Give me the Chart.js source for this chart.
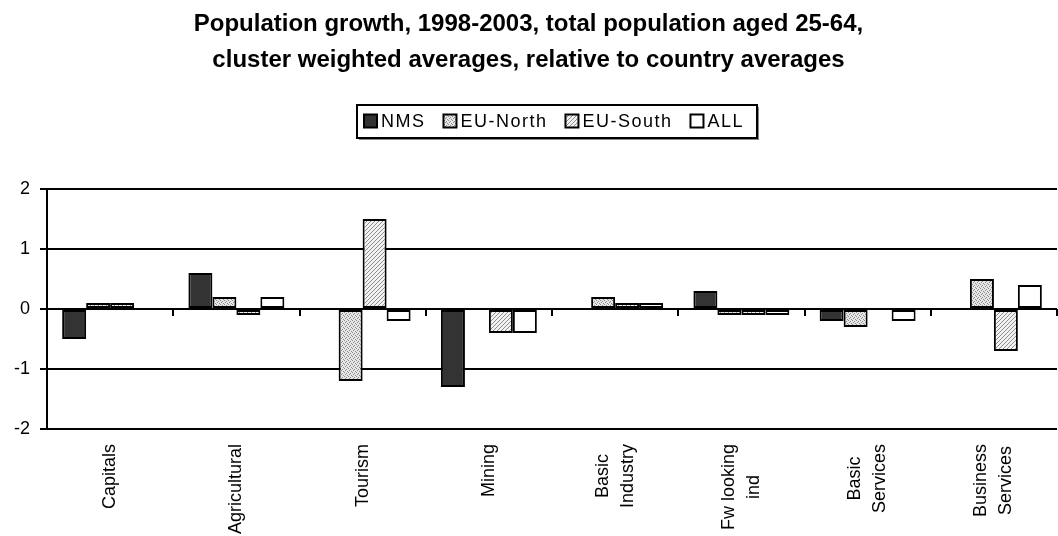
<!DOCTYPE html>
<html>
<head>
<meta charset="utf-8">
<script src="https://cdn.jsdelivr.net/npm/chart.js@4"></script>
<style>
  body { margin: 0; background: #fff; }
</style>
</head>
<body>
<canvas id="myChart" width="1058" height="536"></canvas>
<script>
// data
const categories = [['Capitals'], ['Agricultural'], ['Tourism'], ['Mining'],
  ['Basic', 'Industry'], ['Fw looking', 'ind'], ['Basic', 'Services'], ['Business', 'Services']];
const seriesNames = ['NMS', 'EU-North', 'EU-South', 'ALL'];
const nms = [-0.5, 0.6, 0, -1.3, 0, 0.3, -0.2, 0];
const euNorth = [0.1, 0.2, -1.2, 0, 0.2, -0.1, -0.3, 0.5];
const euSouth = [0.1, -0.1, 1.5, -0.4, 0.1, -0.1, 0, -0.7];
const all = [0, 0.2, -0.2, -0.4, 0.1, -0.1, -0.2, 0.4];
const yTicks = [-2, -1, 0, 1, 2];

const FONT = '"Liberation Sans", Arial, sans-serif';

// small fill patterns, like the old excel ones
function makePattern(kind) {
  const c = document.createElement('canvas');
  c.width = 4; c.height = 4;
  const g = c.getContext('2d');
  g.fillStyle = kind === 'dots' ? '#e6e6e6' : '#f2f2f2';
  g.fillRect(0, 0, 4, 4);
  g.fillStyle = '#8c8c8c';
  if (kind === 'dots') {
    g.fillRect(0, 0, 1, 1); g.fillRect(2, 1, 1, 1);
    g.fillRect(1, 2, 1, 1); g.fillRect(3, 3, 1, 1);
  } else {
    for (let i = 0; i < 4; i++) g.fillRect(i, 3 - i, 1, 1);
  }
  return g.createPattern(c, 'repeat');
}

const fills = ['#333333', makePattern('dots'), makePattern('hatch'), '#ffffff'];
const values = [nms, euNorth, euSouth, all];

const extras = {
  id: 'extras',
  afterDraw(chart) {
    const { ctx, scales: { x, y } } = chart;
    const zero = y.getPixelForValue(0);
    ctx.save();

    // little ticks hanging from the zero line between categories
    ctx.strokeStyle = '#000';
    ctx.lineWidth = 2;
    for (let i = 0; i < categories.length; i++) {
      const px = Math.round(x.getPixelForValue(i + 0.5));
      ctx.beginPath();
      ctx.moveTo(px, zero);
      ctx.lineTo(px, zero + 7);
      ctx.stroke();
    }

    // rotated category labels, lines centred on each other
    ctx.fillStyle = '#000';
    ctx.font = '18px ' + FONT;
    ctx.textAlign = 'center';
    ctx.textBaseline = 'middle';
    categories.forEach((lines, i) => {
      const w = Math.max(...lines.map(t => ctx.measureText(t).width));
      const cx = x.getPixelForValue(i);
      const cy = x.top + 15 + w / 2;
      lines.forEach((t, k) => {
        const off = (k - (lines.length - 1) / 2) * 25;
        ctx.save();
        ctx.translate(cx + off, cy);
        ctx.rotate(-Math.PI / 2);
        ctx.fillText(t, 0, 0);
        ctx.restore();
      });
    });

    // legend in a box with a little shadow
    ctx.font = '18px ' + FONT;
    ctx.letterSpacing = '1.5px';
    ctx.textAlign = 'left';
    const box = 13, gapIn = 4;
    const items = chart.data.datasets.map(d => ({
      label: d.label, fill: d.backgroundColor, w: ctx.measureText(d.label).width
    }));
    const inner = items.reduce((s, it) => s + box + gapIn + it.w, 0);
    const gapOut = (380 - inner) / (items.length - 1);
    let lx = 364;
    const ly = 121;
    ctx.fillStyle = '#888';
    ctx.fillRect(359, 107, 400, 33);
    ctx.fillStyle = '#fff';
    ctx.fillRect(357, 105, 400, 33);
    ctx.lineWidth = 2;
    ctx.strokeStyle = '#000';
    ctx.strokeRect(357, 105, 400, 33);
    items.forEach(it => {
      ctx.fillStyle = it.fill;
      ctx.fillRect(lx, ly - box / 2, box, box);
      ctx.lineWidth = 2;
      ctx.strokeRect(lx, ly - box / 2, box, box);
      ctx.fillStyle = '#000';
      ctx.fillText(it.label, lx + box + gapIn, ly + 1);
      lx += box + gapIn + it.w + gapOut;
    });

    ctx.restore();
  }
};

const ctx = document.getElementById('myChart');
new Chart(ctx, {
  type: 'bar',
  data: {
    labels: categories,
    datasets: seriesNames.map((name, i) => ({
      label: name,
      data: values[i],
      backgroundColor: fills[i],
      borderColor: '#000',
      borderWidth: 2,
      borderSkipped: false,
      categoryPercentage: 0.76,
      barPercentage: 1.0
    }))
  },
  options: {
    responsive: false,
    devicePixelRatio: 1,
    animation: false,
    layout: { padding: { top: 2, left: 0, right: 1, bottom: 0 } },
    plugins: {
      legend: { display: false },
      tooltip: { enabled: false },
      title: {
        display: true,
        text: ['Population growth, 1998-2003, total population aged 25-64,',
               'cluster weighted averages, relative to country averages'],
        color: '#000',
        font: { size: 24, weight: 'bold', family: FONT, lineHeight: 1.5 },
        padding: { top: 4, bottom: 111 }
      }
    },
    scales: {
      x: {
        grid: { display: false },
        border: { display: false },
        ticks: { display: false },
        afterFit: s => { s.height = 107; }
      },
      y: {
        min: yTicks[0],
        max: yTicks[yTicks.length - 1],
        afterBuildTicks: s => { s.ticks = yTicks.map(v => ({ value: v })); },
        grid: { color: '#000', lineWidth: 2, tickLength: 7, tickColor: '#000' },
        border: { display: true, color: '#000', width: 2 },
        ticks: { color: '#000', padding: 10, font: { size: 18, family: FONT } },
        afterFit: s => { s.width = 47; }
      }
    }
  },
  plugins: [extras]
});
</script>
</body>
</html>
